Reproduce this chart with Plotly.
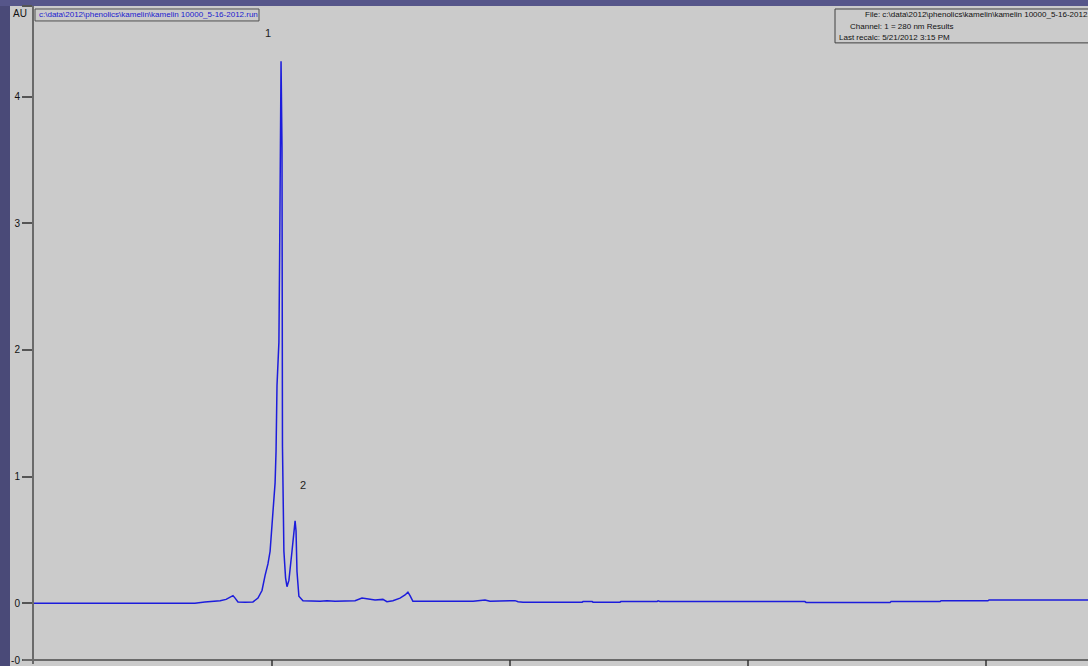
import plotly.graph_objects as go

# Chromatogram trace, 280 nm channel (time in minutes, absorbance in AU)
time_min = [
    0.00, 6.76, 7.18, 7.82, 8.07, 8.24, 8.36, 8.45, 8.57, 8.87, 9.20, 9.41,
    9.58, 9.71, 9.83, 9.92, 10.00, 10.04, 10.13, 10.17, 10.21, 10.29, 10.32,
    10.35, 10.38, 10.42, 10.44, 10.50, 10.57, 10.63, 10.71, 10.84, 10.92,
    10.97, 11.01, 11.05, 11.13, 11.30, 12.02, 12.31, 12.65, 13.49, 13.78,
    14.03, 14.33, 14.66, 14.83, 15.08, 15.38, 15.59, 15.71, 15.80, 15.92,
    18.45, 18.74, 18.95, 19.16, 20.08, 20.21, 20.34, 20.55, 23.03, 23.07,
    23.45, 23.49, 24.62, 24.66, 26.18, 26.22, 26.30, 32.39, 32.44, 35.97,
    36.01, 38.07, 38.11, 40.08, 40.13, 44.29,
]
absorbance = [
    0.000, 0.000, 0.010, 0.020, 0.030, 0.045, 0.060, 0.040, 0.010, 0.008,
    0.010, 0.040, 0.100, 0.220, 0.310, 0.410, 0.580, 0.720, 0.950, 1.200,
    1.720, 2.060, 2.730, 4.250, 4.280, 3.600, 1.240, 0.410, 0.200, 0.130,
    0.180, 0.410, 0.600, 0.650, 0.570, 0.250, 0.055, 0.020, 0.015, 0.020,
    0.015, 0.020, 0.040, 0.035, 0.025, 0.030, 0.012, 0.020, 0.040, 0.065,
    0.087, 0.060, 0.015, 0.015, 0.022, 0.025, 0.015, 0.015, 0.020, 0.012,
    0.008, 0.008, 0.013, 0.013, 0.008, 0.008, 0.013, 0.013, 0.018, 0.013,
    0.013, 0.006, 0.006, 0.013, 0.013, 0.019, 0.019, 0.026, 0.026,
]

# Peak numbering
peak_labels = ["1", "2"]
peak_label_time = [9.83, 11.30]
peak_label_au = [4.50, 0.93]

# Axis ticks
y_tick_vals = [-0.449, 0, 1, 2, 3, 4, 4.717]
y_tick_text = ["-0", "0", "1", "2", "3", "4", ""]
x_tick_vals = [10, 20, 30, 40]

run_file = r"c:\data\2012\phenolics\kamelin\kamelin 10000_5-16-2012.run"
info_lines = [
    r"File: c:\data\2012\phenolics\kamelin\kamelin 10000_5-16-2012.run",
    "Channel: 1 = 280 nm Results",
    "Last recalc: 5/21/2012 3:15 PM",
]

W, H = 1088, 666
ML, MR, MT, MB = 34, 0, 6, 0
PW, PH = W - ML - MR, H - MT - MB
PX_PER_MIN = 23.8
PX_PER_AU = 127.0
ZERO_Y = 605  # pixel row of 0 AU


def px(x):
    return (x - ML) / PW


def py(y):
    return (H - MB - y) / PH


PANEL = "#cbcbcb"
FONT = "Liberation Sans, Arial, sans-serif"

fig = go.Figure()
fig.add_trace(go.Scatter(
    x=time_min, y=absorbance, mode="lines",
    line=dict(color="#1c1cdc", width=1.5),
    hoverinfo="skip", showlegend=False,
))

shapes = [
    # dark slide background strips
    dict(type="rect", xref="paper", yref="paper", x0=px(-2), x1=px(10),
         y0=py(H + 2), y1=py(-2), fillcolor="#4a4a78", line=dict(width=0),
         layer="below"),
    dict(type="rect", xref="paper", yref="paper", x0=px(-2), x1=px(W + 2),
         y0=py(6), y1=py(-2), fillcolor="#56568a", line=dict(width=0),
         layer="below"),
    # x axis line near the bottom edge
    dict(type="line", xref="paper", yref="paper", x0=px(23), x1=px(W + 2),
         y0=py(662), y1=py(662),
         line=dict(color="#6a6a6a", width=2)),
    # file name box
    dict(type="rect", xref="paper", yref="paper", x0=px(35), x1=px(259),
         y0=py(21), y1=py(9), fillcolor=PANEL,
         line=dict(color="#505050", width=1)),
    # run information box
    dict(type="rect", xref="paper", yref="paper", x0=px(835), x1=px(W + 5),
         y0=py(43), y1=py(9), fillcolor=PANEL,
         line=dict(color="#404040", width=1)),
]

annotations = [
    dict(text=run_file, xref="paper", yref="paper", x=px(37), y=py(15),
         xanchor="left", yanchor="middle", showarrow=False,
         font=dict(family=FONT, size=8, color="#1a1ad0")),
    dict(text="AU", xref="paper", yref="paper", x=px(20), y=py(14),
         xanchor="center", yanchor="middle", showarrow=False,
         font=dict(family=FONT, size=10, color="#111111")),
]
for text, x0, y0 in zip(info_lines, [863, 848, 837], [15, 27, 38]):
    annotations.append(dict(
        text=text, xref="paper", yref="paper", x=px(x0), y=py(y0),
        xanchor="left", yanchor="middle", showarrow=False,
        font=dict(family=FONT, size=8, color="#111111")))
for lab, t, a in zip(peak_labels, peak_label_time, peak_label_au):
    annotations.append(dict(
        text=lab, x=t, y=a, xref="x", yref="y", showarrow=False,
        xanchor="center", yanchor="middle",
        font=dict(family=FONT, size=11, color="#222222")))

y_lo = -(H - MB - ZERO_Y) / PX_PER_AU
y_hi = (ZERO_Y - MT) / PX_PER_AU

fig.update_layout(
    width=W, height=H,
    margin=dict(l=ML, r=MR, t=MT, b=MB, pad=0),
    paper_bgcolor=PANEL, plot_bgcolor=PANEL,
    shapes=shapes, annotations=annotations,
    xaxis=dict(
        range=[0, PW / PX_PER_MIN], showgrid=False, zeroline=False,
        showline=False, showticklabels=False, fixedrange=True,
    ),
    yaxis=dict(
        range=[y_lo, y_hi], showgrid=False, zeroline=False,
        showline=True, linecolor="#6a6a6a", linewidth=2,
        ticks="outside", ticklen=10, tickwidth=1.5, tickcolor="#555555",
        tickvals=y_tick_vals, ticktext=y_tick_text,
        tickfont=dict(family=FONT, size=10, color="#111111"),
        ticklabeloverflow="allow",
        fixedrange=True,
    ),
)

# x ticks hang below the axis line at the bottom edge
for t in x_tick_vals:
    fig.add_shape(type="line", xref="x", yref="paper", x0=t, x1=t,
                  y0=py(662), y1=py(H + 2), line=dict(color="#333333", width=1.5))

fig.write_html("out.html")
